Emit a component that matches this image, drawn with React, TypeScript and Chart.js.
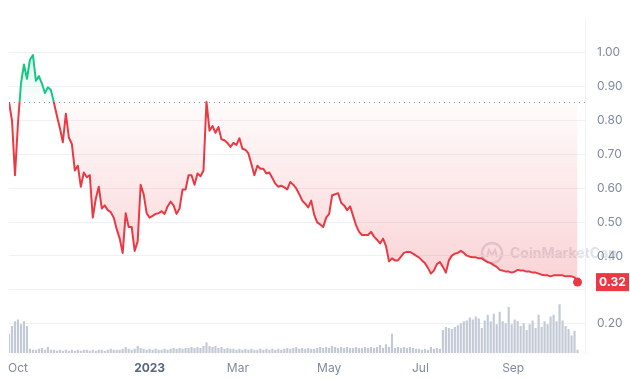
import React, { useEffect, useRef } from 'react';
import { Chart, registerables } from 'chart.js';

Chart.register(...registerables);

// Daily-ish price samples (one every 2 days), USD
const prices = [
  0.853, 0.799, 0.638, 0.791, 0.908, 0.964, 0.922, 0.978, 0.992, 0.916,
  0.930, 0.908, 0.880, 0.897, 0.889, 0.852, 0.813, 0.777, 0.735, 0.819,
  0.749, 0.730, 0.652, 0.666, 0.604, 0.646, 0.632, 0.638, 0.513, 0.568,
  0.604, 0.540, 0.549, 0.535, 0.529, 0.513, 0.479, 0.451, 0.409, 0.526,
  0.485, 0.485, 0.415, 0.443, 0.610, 0.582, 0.526, 0.513, 0.518, 0.524,
  0.526, 0.532, 0.524, 0.546, 0.560, 0.549, 0.524, 0.540, 0.596, 0.596,
  0.638, 0.638, 0.610, 0.643, 0.635, 0.652, 0.855, 0.769, 0.783, 0.763,
  0.780, 0.744, 0.741, 0.733, 0.721, 0.733, 0.727, 0.747, 0.716, 0.713,
  0.702, 0.671, 0.638, 0.666, 0.657, 0.657, 0.643, 0.646, 0.630, 0.613,
  0.604, 0.607, 0.602, 0.596, 0.618, 0.610, 0.599, 0.582, 0.563, 0.554,
  0.543, 0.563, 0.521, 0.499, 0.493, 0.485, 0.513, 0.524, 0.579, 0.582,
  0.585, 0.557, 0.549, 0.535, 0.546, 0.518, 0.490, 0.471, 0.462, 0.462,
  0.462, 0.471, 0.457, 0.448, 0.437, 0.451, 0.429, 0.384, 0.393, 0.387,
  0.387, 0.398, 0.409, 0.412, 0.412, 0.407, 0.401, 0.396, 0.387, 0.379,
  0.365, 0.348, 0.357, 0.376, 0.382, 0.368, 0.351, 0.387, 0.401, 0.407,
  0.409, 0.415, 0.409, 0.401, 0.398, 0.396, 0.396, 0.393, 0.393, 0.387,
  0.382, 0.379, 0.373, 0.368, 0.359, 0.357, 0.354, 0.354, 0.351, 0.354,
  0.359, 0.357, 0.357, 0.354, 0.354, 0.351, 0.351, 0.348, 0.345, 0.343,
  0.343, 0.340, 0.343, 0.343, 0.343, 0.343, 0.340, 0.340, 0.340, 0.337,
  0.323,
];

// Trading volume per sample (relative units, millions)
const volumes = [
  20, 28, 33, 35, 30, 33, 28, 4, 3, 3,
  4, 5, 3, 6, 3, 3, 2, 3, 2, 3,
  2, 3, 2, 3, 2, 3, 3, 2, 3, 2,
  3, 3, 2, 3, 4, 3, 3, 3, 4, 6,
  4, 3, 4, 7, 5, 4, 3, 4, 3, 4,
  3, 3, 4, 3, 4, 5, 4, 5, 4, 5,
  5, 6, 5, 6, 5, 7, 11, 7, 6, 7,
  5, 6, 4, 5, 4, 4, 3, 4, 3, 4,
  3, 4, 3, 3, 4, 3, 4, 3, 4, 3,
  4, 3, 4, 5, 4, 5, 6, 4, 5, 4,
  5, 4, 4, 5, 6, 5, 6, 5, 7, 6,
  5, 6, 5, 6, 5, 5, 6, 5, 5, 6,
  5, 6, 5, 6, 8, 5, 9, 6, 20, 5,
  6, 5, 6, 5, 6, 5, 4, 4, 3, 4,
  3, 6, 4, 5, 4, 24, 27, 26, 25, 27,
  29, 31, 33, 34, 37, 35, 38, 36, 26, 34,
  40, 33, 41, 30, 43, 33, 31, 48, 30, 35,
  33, 28, 31, 24, 30, 34, 26, 40, 27, 33,
  30, 38, 40, 33, 51, 34, 28, 25, 18, 23,
  3,
];

const DAYS_PER_SAMPLE = 2;
const X_MAX_DAYS = 385;
const xTickDays = [6, 94, 153, 214, 275, 337];
const xTickLabels = ['Oct', '2023', 'Mar', 'May', 'Jul', 'Sep'];
const yTicks = [0.2, 0.3, 0.4, 0.5, 0.6, 0.7, 0.8, 0.9, 1.0];
const yHiddenLabels = [0.3];
const Y_MIN = 0.1142;
const Y_MAX = 1.0975;
const currentPriceText = '0.32';
const watermarkText = 'CoinMarketCap';

const GREEN = '#16c784';
const RED = '#ea3943';
const GRID = '#eff2f5';
const LABEL = '#808a9d';
const FONT = 'Inter, "Noto Sans", sans-serif';

export default function App() {
  const ref = useRef<HTMLCanvasElement | null>(null);

  useEffect(() => {
    if (!ref.current) return;
    const baseline = prices[0];
    const lastIdx = prices.length - 1;
    const linePts = prices.map((v, i) => ({ x: i * DAYS_PER_SAMPLE, y: v }));
    const volPts = volumes.map((v, i) => ({ x: i * DAYS_PER_SAMPLE, y: v }));

    const baseFrac = (chart: any) => {
      const { chartArea, scales } = chart;
      const yb = scales.y.getPixelForValue(baseline);
      return Math.min(Math.max((yb - chartArea.top) / (chartArea.bottom - chartArea.top), 0), 1);
    };

    const lineColor = (c: any) => {
      const chart = c.chart;
      const { ctx, chartArea } = chart;
      if (!chartArea) return RED;
      const t = baseFrac(chart);
      const g = ctx.createLinearGradient(0, chartArea.top, 0, chartArea.bottom);
      g.addColorStop(0, GREEN);
      g.addColorStop(t, GREEN);
      g.addColorStop(t, RED);
      g.addColorStop(1, RED);
      return g;
    };

    const fillColor = (c: any) => {
      const chart = c.chart;
      const { ctx, chartArea } = chart;
      if (!chartArea) return 'rgba(234,57,67,0.1)';
      const t = baseFrac(chart);
      const g = ctx.createLinearGradient(0, chartArea.top, 0, chartArea.bottom);
      g.addColorStop(0, 'rgba(22,199,132,0.22)');
      g.addColorStop(t, 'rgba(22,199,132,0.02)');
      g.addColorStop(t, 'rgba(234,57,67,0.02)');
      g.addColorStop(1, 'rgba(234,57,67,0.30)');
      return g;
    };

    const decor = {
      id: 'decor',
      beforeDraw(chart: any) {
        const { ctx, chartArea } = chart;
        const cx = chartArea.right - 93;
        const cy = chartArea.bottom - 100;
        ctx.save();
        ctx.strokeStyle = 'rgba(160,172,192,0.35)';
        ctx.fillStyle = 'rgba(160,172,192,0.35)';
        ctx.lineWidth = 2.5;
        ctx.beginPath();
        ctx.arc(cx, cy, 10, 0, Math.PI * 2);
        ctx.stroke();
        ctx.lineWidth = 2;
        ctx.beginPath();
        ctx.moveTo(cx - 5, cy + 4);
        ctx.lineTo(cx - 3, cy - 3);
        ctx.lineTo(cx, cy + 2);
        ctx.lineTo(cx + 3, cy - 3);
        ctx.lineTo(cx + 5, cy + 4);
        ctx.stroke();
        ctx.font = `bold 14px ${FONT}`;
        ctx.textBaseline = 'middle';
        ctx.textAlign = 'left';
        ctx.fillText(watermarkText, cx + 18, cy + 1);
        ctx.restore();
      },
      beforeDatasetsDraw(chart: any) {
        const { ctx, chartArea, scales } = chart;
        const y = Math.round(scales.y.getPixelForValue(baseline)) + 0.5;
        ctx.save();
        ctx.strokeStyle = '#8a94a6';
        ctx.lineWidth = 1;
        ctx.setLineDash([1, 4]);
        ctx.beginPath();
        ctx.moveTo(chartArea.left, y);
        ctx.lineTo(chartArea.right, y);
        ctx.stroke();
        ctx.restore();
      },
      afterDraw(chart: any) {
        const { ctx, chartArea, scales } = chart;
        const y = scales.y.getPixelForValue(prices[lastIdx]);
        const x = chartArea.right + 11;
        ctx.save();
        ctx.fillStyle = RED;
        ctx.fillRect(x, y - 9, 33, 18);
        ctx.fillStyle = '#ffffff';
        ctx.font = `bold 12px ${FONT}`;
        ctx.textAlign = 'center';
        ctx.textBaseline = 'middle';
        ctx.fillText(currentPriceText, x + 16.5, y + 0.5);
        ctx.restore();
      },
    };

    const chart = new Chart(ref.current, {
      type: 'line',
      data: {
        datasets: [
          {
            type: 'line',
            data: linePts,
            yAxisID: 'y',
            borderColor: lineColor,
            backgroundColor: fillColor,
            borderWidth: 2,
            tension: 0,
            borderJoinStyle: 'round',
            fill: { value: baseline },
            pointRadius: (c: any) => (c.dataIndex === lastIdx ? 4.5 : 0),
            pointBackgroundColor: RED,
            pointBorderWidth: 0,
            pointHoverRadius: 0,
            order: 1,
          } as any,
          {
            type: 'bar',
            data: volPts,
            yAxisID: 'yVol',
            backgroundColor: '#c3cad6',
            barThickness: 1.5,
            order: 2,
          } as any,
        ],
      },
      options: {
        animation: false,
        responsive: false,
        devicePixelRatio: 1,
        layout: { padding: 0, autoPadding: false } as any,
        plugins: {
          legend: { display: false },
          tooltip: { enabled: false },
        },
        scales: {
          x: {
            type: 'linear',
            offset: false,
            min: 0,
            max: X_MAX_DAYS,
            afterBuildTicks: (scale: any) => {
              scale.ticks = xTickDays.map((v) => ({ value: v }));
            },
            afterFit: (scale: any) => {
              scale.height = 27;
            },
            grid: { display: false, drawTicks: false, offset: false },
            border: { display: false },
            ticks: {
              autoSkip: false,
              maxRotation: 0,
              padding: 8,
              callback: (v: any) => xTickLabels[xTickDays.indexOf(v)],
              color: (c: any) => (c.tick && c.tick.label === '2023' ? '#58667e' : LABEL),
              font: (c: any) =>
                c.tick && c.tick.label === '2023'
                  ? { family: FONT, size: 12, weight: 'bold' }
                  : { family: FONT, size: 12 },
            } as any,
          },
          y: {
            type: 'linear',
            position: 'right',
            min: Y_MIN,
            max: Y_MAX,
            afterBuildTicks: (scale: any) => {
              scale.ticks = yTicks.map((v) => ({ value: v }));
            },
            afterFit: (scale: any) => {
              scale.width = 45;
            },
            grid: { color: GRID, drawTicks: false },
            border: { display: true, color: GRID },
            ticks: {
              padding: 12,
              color: LABEL,
              font: { family: FONT, size: 12 },
              callback: (v: any) => (yHiddenLabels.includes(v) ? '' : Number(v).toFixed(2)),
            },
          },
          yVol: {
            type: 'linear',
            display: false,
            min: 0,
            max: Math.max(...volumes) / 0.145,
          },
        },
      },
      plugins: [decor],
    });

    return () => chart.destroy();
  }, []);

  return (
    <div style={{ position: 'fixed', left: 0, top: 0, width: 630, height: 380, background: '#fff' }}>
      <canvas ref={ref} width={630} height={380} />
    </div>
  );
}
